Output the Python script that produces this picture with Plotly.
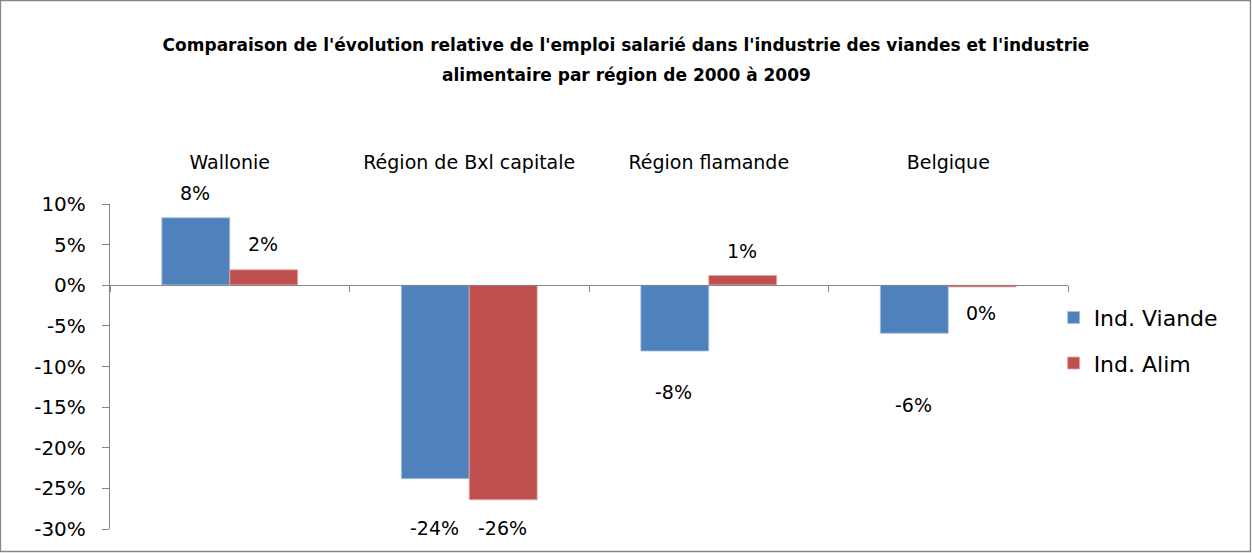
import plotly.graph_objects as go

categories = ["Wallonie", "Région de Bxl capitale", "Région flamande", "Belgique"]
viande = [8.3, -23.8, -8.1, -5.9]
alim = [1.9, -26.4, 1.2, -0.2]
viande_labels = ["8%", "-24%", "-8%", "-6%"]
alim_labels = ["2%", "-26%", "1%", "0%"]
y_ticks = [10, 5, 0, -5, -10, -15, -20, -25, -30]
title_line1 = "Comparaison de l'évolution relative de l'emploi salarié dans l'industrie des viandes et l'industrie"
title_line2 = "alimentaire par région de 2000 à 2009"

# label offsets in pixels (label placement in the original)
viande_shift = [25, -49, -41, -72]
alim_shift = [26, -28, 25, -26]

W, H = 1252, 553
ML, MR, MT, MB = 110, 184, 204, 24
FONT = "DejaVu Sans"
FS = 19

fig = go.Figure()
fig.add_trace(go.Bar(x=categories, y=viande, name="Ind. Viande",
                     marker=dict(color="#4F81BD", line=dict(color="#a9c0df", width=0.8)),
                     legendgroup="a"))
fig.add_trace(go.Bar(x=categories, y=alim, name="Ind. Alim",
                     marker=dict(color="#C0504D", line=dict(color="#e0a8a6", width=0.8)),
                     legendgroup="b"))

annos = []
for i, c in enumerate(categories):
    annos.append(dict(x=c, y=viande[i], xref="x", yref="y", text=viande_labels[i],
                      showarrow=False, xshift=-35, yshift=viande_shift[i],
                      font=dict(size=FS, color="#000", family=FONT)))
    annos.append(dict(x=c, y=alim[i], xref="x", yref="y", text=alim_labels[i],
                      showarrow=False, xshift=33, yshift=alim_shift[i],
                      font=dict(size=FS, color="#000", family=FONT)))

pw = W - ML - MR
ph = H - MT - MB
# second title line
annos.append(dict(x=(W / 2 - ML) / pw, y=(H - MB - 75) / ph, xref="paper", yref="paper",
                  xanchor="center", yanchor="middle", showarrow=False,
                  text="<b>" + title_line2 + "</b>",
                  font=dict(size=17, family=FONT, color="#000")))

fig.add_shape(type="rect", xref="paper", yref="paper",
              x0=-(ML - 0.5) / pw, x1=(W - ML - 1.5) / pw,
              y0=-(MB - 1.5) / ph, y1=(H - MB - 0.5) / ph,
              line=dict(color="#868686", width=1.3), fillcolor="rgba(0,0,0,0)")

fig.update_layout(
    width=W, height=H,
    margin=dict(l=ML, r=MR, t=MT, b=MB),
    paper_bgcolor="white", plot_bgcolor="white",
    barmode="group", bargap=0.433, bargroupgap=0,
    font=dict(family=FONT, size=FS, color="#000"),
    title=dict(text="<b>" + title_line1 + "</b>",
               x=0.5, xref="container", xanchor="center",
               y=1 - 45 / H, yanchor="middle",
               font=dict(size=17, family=FONT, color="#000")),
    annotations=annos,
    legend=dict(x=0.985, xanchor="left", y=0.715, yanchor="top",
                font=dict(size=22, family=FONT), tracegroupgap=14,
                itemwidth=30, bgcolor="rgba(0,0,0,0)"),
    xaxis=dict(side="top", showline=False, ticks="", showgrid=False,
               zeroline=False, ticklabelstandoff=30,
               tickfont=dict(size=FS, family=FONT)),
    xaxis2=dict(overlaying="x", matches="x", anchor="free", position=0.75,
                showline=True, linecolor="#868686", linewidth=1.3,
                ticks="outside", tickson="boundaries", ticklen=6,
                tickcolor="#868686", showticklabels=False, showgrid=False),
    yaxis=dict(range=[-30, 10], tickvals=y_ticks,
               ticktext=[f"{v}%" for v in y_ticks],
               showline=True, linecolor="#868686", linewidth=1.3,
               ticks="outside", ticklen=7, tickcolor="#868686",
               ticklabelstandoff=12,
               showgrid=False, zeroline=False,
               tickfont=dict(size=20, family=FONT)),
)
# invisible trace to activate xaxis2
fig.add_trace(go.Bar(x=categories, y=[0, 0, 0, 0], xaxis="x2", showlegend=False,
                     hoverinfo="skip", marker=dict(color="rgba(0,0,0,0)")))
fig.write_html("out.html", post_script="document.body.style.margin='0';",
               config={"displayModeBar": False})
